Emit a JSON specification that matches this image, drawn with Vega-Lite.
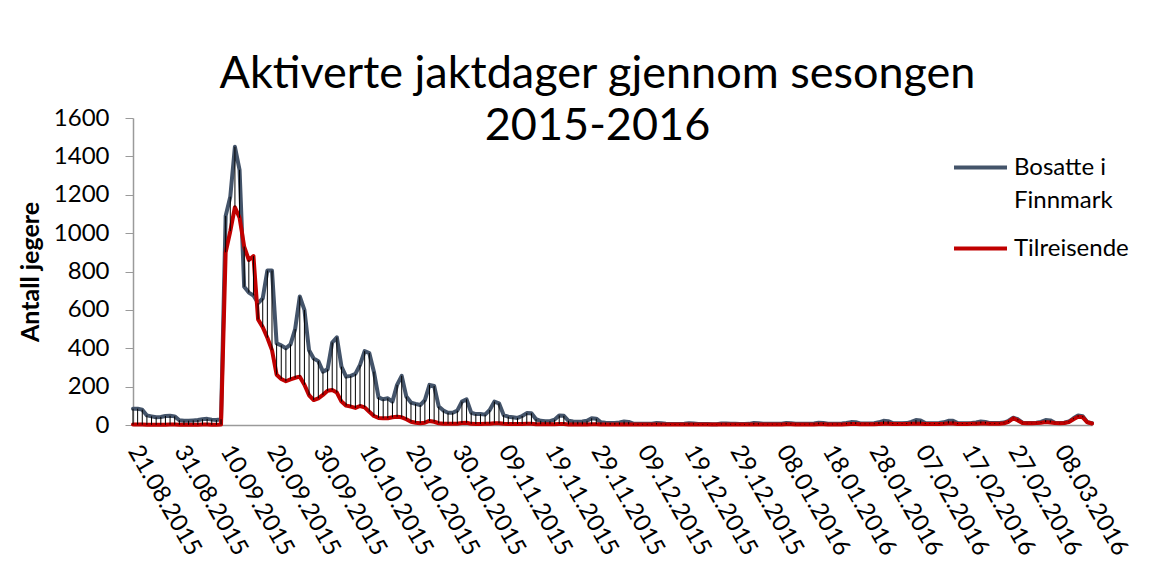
{
"$schema": "https://vega.github.io/schema/vega-lite/v6.json",
"width": 959,
"height": 307,
"autosize": {"type": "none"},
"padding": {"left": 133, "top": 118, "right": 81, "bottom": 151},
"background": "white",
"config": {"view": {"stroke": null}, "font": "Lato",
  "axisY": {"labelOverlap": false, "format": "d", "grid": false, "tickSize": 8, "tickColor": "#9a9a9a", "domainColor": "#9a9a9a", "domainWidth": 1.5, "labelFont": "Lato", "labelFontSize": 24, "labelColor": "black", "labelPadding": 16, "titleFont": "Lato", "titleFontSize": 25, "titleFontWeight": "bold", "titleColor": "black", "titlePadding": 10}},
"title": {"text": ["Aktiverte jaktdager gjennom sesongen", "2015-2016"], "font": "Lato", "fontSize": 45, "fontWeight": "normal", "lineHeight": 52, "anchor": "middle", "offset": -43, "dx": -15, "color": "black"},
"data": {"values": [
{"date":"2015-08-21","bosatte":85,"tilreisende":2},
{"date":"2015-08-22","bosatte":85,"tilreisende":2},
{"date":"2015-08-23","bosatte":80,"tilreisende":2},
{"date":"2015-08-24","bosatte":50,"tilreisende":1},
{"date":"2015-08-25","bosatte":45,"tilreisende":1},
{"date":"2015-08-26","bosatte":40,"tilreisende":1},
{"date":"2015-08-27","bosatte":42,"tilreisende":1},
{"date":"2015-08-28","bosatte":47,"tilreisende":1},
{"date":"2015-08-29","bosatte":48,"tilreisende":2},
{"date":"2015-08-30","bosatte":45,"tilreisende":2},
{"date":"2015-08-31","bosatte":25,"tilreisende":1},
{"date":"2015-09-01","bosatte":22,"tilreisende":1},
{"date":"2015-09-02","bosatte":22,"tilreisende":1},
{"date":"2015-09-03","bosatte":24,"tilreisende":1},
{"date":"2015-09-04","bosatte":26,"tilreisende":1},
{"date":"2015-09-05","bosatte":30,"tilreisende":2},
{"date":"2015-09-06","bosatte":32,"tilreisende":2},
{"date":"2015-09-07","bosatte":28,"tilreisende":1},
{"date":"2015-09-08","bosatte":26,"tilreisende":1},
{"date":"2015-09-09","bosatte":30,"tilreisende":3},
{"date":"2015-09-10","bosatte":1090,"tilreisende":900},
{"date":"2015-09-11","bosatte":1190,"tilreisende":1010},
{"date":"2015-09-12","bosatte":1450,"tilreisende":1135},
{"date":"2015-09-13","bosatte":1330,"tilreisende":1080},
{"date":"2015-09-14","bosatte":720,"tilreisende":930},
{"date":"2015-09-15","bosatte":690,"tilreisende":860},
{"date":"2015-09-16","bosatte":675,"tilreisende":880},
{"date":"2015-09-17","bosatte":635,"tilreisende":550},
{"date":"2015-09-18","bosatte":660,"tilreisende":510},
{"date":"2015-09-19","bosatte":805,"tilreisende":455},
{"date":"2015-09-20","bosatte":805,"tilreisende":390},
{"date":"2015-09-21","bosatte":425,"tilreisende":262},
{"date":"2015-09-22","bosatte":415,"tilreisende":240},
{"date":"2015-09-23","bosatte":400,"tilreisende":228},
{"date":"2015-09-24","bosatte":420,"tilreisende":238},
{"date":"2015-09-25","bosatte":500,"tilreisende":246},
{"date":"2015-09-26","bosatte":670,"tilreisende":252},
{"date":"2015-09-27","bosatte":600,"tilreisende":210},
{"date":"2015-09-28","bosatte":390,"tilreisende":155},
{"date":"2015-09-29","bosatte":347,"tilreisende":130},
{"date":"2015-09-30","bosatte":333,"tilreisende":139},
{"date":"2015-10-01","bosatte":278,"tilreisende":157},
{"date":"2015-10-02","bosatte":290,"tilreisende":178},
{"date":"2015-10-03","bosatte":430,"tilreisende":182},
{"date":"2015-10-04","bosatte":457,"tilreisende":169},
{"date":"2015-10-05","bosatte":304,"tilreisende":122},
{"date":"2015-10-06","bosatte":252,"tilreisende":101},
{"date":"2015-10-07","bosatte":256,"tilreisende":96},
{"date":"2015-10-08","bosatte":266,"tilreisende":89},
{"date":"2015-10-09","bosatte":313,"tilreisende":99},
{"date":"2015-10-10","bosatte":385,"tilreisende":92},
{"date":"2015-10-11","bosatte":375,"tilreisende":69},
{"date":"2015-10-12","bosatte":278,"tilreisende":47},
{"date":"2015-10-13","bosatte":144,"tilreisende":37},
{"date":"2015-10-14","bosatte":134,"tilreisende":35},
{"date":"2015-10-15","bosatte":139,"tilreisende":35},
{"date":"2015-10-16","bosatte":122,"tilreisende":40},
{"date":"2015-10-17","bosatte":209,"tilreisende":43},
{"date":"2015-10-18","bosatte":256,"tilreisende":40},
{"date":"2015-10-19","bosatte":148,"tilreisende":30},
{"date":"2015-10-20","bosatte":117,"tilreisende":17},
{"date":"2015-10-21","bosatte":110,"tilreisende":12},
{"date":"2015-10-22","bosatte":104,"tilreisende":9},
{"date":"2015-10-23","bosatte":130,"tilreisende":12},
{"date":"2015-10-24","bosatte":209,"tilreisende":21},
{"date":"2015-10-25","bosatte":203,"tilreisende":17},
{"date":"2015-10-26","bosatte":96,"tilreisende":9},
{"date":"2015-10-27","bosatte":75,"tilreisende":7},
{"date":"2015-10-28","bosatte":64,"tilreisende":6},
{"date":"2015-10-29","bosatte":64,"tilreisende":6},
{"date":"2015-10-30","bosatte":75,"tilreisende":7},
{"date":"2015-10-31","bosatte":122,"tilreisende":10},
{"date":"2015-11-01","bosatte":134,"tilreisende":12},
{"date":"2015-11-02","bosatte":64,"tilreisende":6},
{"date":"2015-11-03","bosatte":57,"tilreisende":5},
{"date":"2015-11-04","bosatte":57,"tilreisende":5},
{"date":"2015-11-05","bosatte":54,"tilreisende":6},
{"date":"2015-11-06","bosatte":78,"tilreisende":7},
{"date":"2015-11-07","bosatte":122,"tilreisende":9},
{"date":"2015-11-08","bosatte":113,"tilreisende":9},
{"date":"2015-11-09","bosatte":52,"tilreisende":6},
{"date":"2015-11-10","bosatte":43,"tilreisende":5},
{"date":"2015-11-11","bosatte":40,"tilreisende":5},
{"date":"2015-11-12","bosatte":37,"tilreisende":5},
{"date":"2015-11-13","bosatte":47,"tilreisende":5},
{"date":"2015-11-14","bosatte":62,"tilreisende":6},
{"date":"2015-11-15","bosatte":61,"tilreisende":6},
{"date":"2015-11-16","bosatte":30,"tilreisende":4},
{"date":"2015-11-17","bosatte":22,"tilreisende":4},
{"date":"2015-11-18","bosatte":20,"tilreisende":4},
{"date":"2015-11-19","bosatte":20,"tilreisende":4},
{"date":"2015-11-20","bosatte":28,"tilreisende":4},
{"date":"2015-11-21","bosatte":50,"tilreisende":5},
{"date":"2015-11-22","bosatte":48,"tilreisende":5},
{"date":"2015-11-23","bosatte":22,"tilreisende":3},
{"date":"2015-11-24","bosatte":18,"tilreisende":3},
{"date":"2015-11-25","bosatte":17,"tilreisende":3},
{"date":"2015-11-26","bosatte":18,"tilreisende":3},
{"date":"2015-11-27","bosatte":22,"tilreisende":3},
{"date":"2015-11-28","bosatte":35,"tilreisende":4},
{"date":"2015-11-29","bosatte":33,"tilreisende":4},
{"date":"2015-11-30","bosatte":14,"tilreisende":3},
{"date":"2015-12-01","bosatte":12,"tilreisende":3},
{"date":"2015-12-02","bosatte":11,"tilreisende":2},
{"date":"2015-12-03","bosatte":11,"tilreisende":2},
{"date":"2015-12-04","bosatte":13,"tilreisende":2},
{"date":"2015-12-05","bosatte":18,"tilreisende":3},
{"date":"2015-12-06","bosatte":16,"tilreisende":3},
{"date":"2015-12-07","bosatte":7,"tilreisende":2},
{"date":"2015-12-08","bosatte":6,"tilreisende":2},
{"date":"2015-12-09","bosatte":6,"tilreisende":2},
{"date":"2015-12-10","bosatte":6,"tilreisende":2},
{"date":"2015-12-11","bosatte":7,"tilreisende":2},
{"date":"2015-12-12","bosatte":10,"tilreisende":3},
{"date":"2015-12-13","bosatte":9,"tilreisende":3},
{"date":"2015-12-14","bosatte":6,"tilreisende":2},
{"date":"2015-12-15","bosatte":5,"tilreisende":2},
{"date":"2015-12-16","bosatte":5,"tilreisende":2},
{"date":"2015-12-17","bosatte":5,"tilreisende":2},
{"date":"2015-12-18","bosatte":6,"tilreisende":2},
{"date":"2015-12-19","bosatte":9,"tilreisende":3},
{"date":"2015-12-20","bosatte":8,"tilreisende":3},
{"date":"2015-12-21","bosatte":5,"tilreisende":2},
{"date":"2015-12-22","bosatte":5,"tilreisende":2},
{"date":"2015-12-23","bosatte":5,"tilreisende":2},
{"date":"2015-12-24","bosatte":4,"tilreisende":2},
{"date":"2015-12-25","bosatte":4,"tilreisende":2},
{"date":"2015-12-26","bosatte":8,"tilreisende":3},
{"date":"2015-12-27","bosatte":8,"tilreisende":3},
{"date":"2015-12-28","bosatte":6,"tilreisende":2},
{"date":"2015-12-29","bosatte":6,"tilreisende":2},
{"date":"2015-12-30","bosatte":5,"tilreisende":2},
{"date":"2015-12-31","bosatte":5,"tilreisende":2},
{"date":"2016-01-01","bosatte":6,"tilreisende":2},
{"date":"2016-01-02","bosatte":10,"tilreisende":3},
{"date":"2016-01-03","bosatte":9,"tilreisende":3},
{"date":"2016-01-04","bosatte":6,"tilreisende":3},
{"date":"2016-01-05","bosatte":6,"tilreisende":3},
{"date":"2016-01-06","bosatte":6,"tilreisende":3},
{"date":"2016-01-07","bosatte":6,"tilreisende":3},
{"date":"2016-01-08","bosatte":7,"tilreisende":3},
{"date":"2016-01-09","bosatte":10,"tilreisende":4},
{"date":"2016-01-10","bosatte":9,"tilreisende":4},
{"date":"2016-01-11","bosatte":6,"tilreisende":3},
{"date":"2016-01-12","bosatte":6,"tilreisende":3},
{"date":"2016-01-13","bosatte":6,"tilreisende":3},
{"date":"2016-01-14","bosatte":7,"tilreisende":3},
{"date":"2016-01-15","bosatte":8,"tilreisende":3},
{"date":"2016-01-16","bosatte":12,"tilreisende":4},
{"date":"2016-01-17","bosatte":11,"tilreisende":4},
{"date":"2016-01-18","bosatte":7,"tilreisende":3},
{"date":"2016-01-19","bosatte":7,"tilreisende":3},
{"date":"2016-01-20","bosatte":7,"tilreisende":3},
{"date":"2016-01-21","bosatte":8,"tilreisende":3},
{"date":"2016-01-22","bosatte":10,"tilreisende":4},
{"date":"2016-01-23","bosatte":15,"tilreisende":5},
{"date":"2016-01-24","bosatte":14,"tilreisende":5},
{"date":"2016-01-25","bosatte":8,"tilreisende":4},
{"date":"2016-01-26","bosatte":8,"tilreisende":4},
{"date":"2016-01-27","bosatte":8,"tilreisende":4},
{"date":"2016-01-28","bosatte":9,"tilreisende":4},
{"date":"2016-01-29","bosatte":14,"tilreisende":5},
{"date":"2016-01-30","bosatte":22,"tilreisende":6},
{"date":"2016-01-31","bosatte":20,"tilreisende":6},
{"date":"2016-02-01","bosatte":10,"tilreisende":5},
{"date":"2016-02-02","bosatte":9,"tilreisende":5},
{"date":"2016-02-03","bosatte":9,"tilreisende":5},
{"date":"2016-02-04","bosatte":10,"tilreisende":5},
{"date":"2016-02-05","bosatte":16,"tilreisende":6},
{"date":"2016-02-06","bosatte":26,"tilreisende":7},
{"date":"2016-02-07","bosatte":24,"tilreisende":7},
{"date":"2016-02-08","bosatte":10,"tilreisende":5},
{"date":"2016-02-09","bosatte":9,"tilreisende":5},
{"date":"2016-02-10","bosatte":9,"tilreisende":5},
{"date":"2016-02-11","bosatte":10,"tilreisende":5},
{"date":"2016-02-12","bosatte":14,"tilreisende":6},
{"date":"2016-02-13","bosatte":22,"tilreisende":8},
{"date":"2016-02-14","bosatte":22,"tilreisende":8},
{"date":"2016-02-15","bosatte":10,"tilreisende":5},
{"date":"2016-02-16","bosatte":9,"tilreisende":5},
{"date":"2016-02-17","bosatte":9,"tilreisende":5},
{"date":"2016-02-18","bosatte":10,"tilreisende":6},
{"date":"2016-02-19","bosatte":13,"tilreisende":7},
{"date":"2016-02-20","bosatte":18,"tilreisende":8},
{"date":"2016-02-21","bosatte":16,"tilreisende":8},
{"date":"2016-02-22","bosatte":10,"tilreisende":6},
{"date":"2016-02-23","bosatte":10,"tilreisende":6},
{"date":"2016-02-24","bosatte":11,"tilreisende":7},
{"date":"2016-02-25","bosatte":13,"tilreisende":9},
{"date":"2016-02-26","bosatte":22,"tilreisende":17},
{"date":"2016-02-27","bosatte":38,"tilreisende":35},
{"date":"2016-02-28","bosatte":30,"tilreisende":24},
{"date":"2016-02-29","bosatte":12,"tilreisende":10},
{"date":"2016-03-01","bosatte":11,"tilreisende":9},
{"date":"2016-03-02","bosatte":11,"tilreisende":9},
{"date":"2016-03-03","bosatte":12,"tilreisende":10},
{"date":"2016-03-04","bosatte":16,"tilreisende":12},
{"date":"2016-03-05","bosatte":26,"tilreisende":15},
{"date":"2016-03-06","bosatte":24,"tilreisende":13},
{"date":"2016-03-07","bosatte":12,"tilreisende":10},
{"date":"2016-03-08","bosatte":11,"tilreisende":9},
{"date":"2016-03-09","bosatte":12,"tilreisende":10},
{"date":"2016-03-10","bosatte":18,"tilreisende":15},
{"date":"2016-03-11","bosatte":35,"tilreisende":30},
{"date":"2016-03-12","bosatte":50,"tilreisende":43},
{"date":"2016-03-13","bosatte":46,"tilreisende":40},
{"date":"2016-03-14","bosatte":15,"tilreisende":14},
{"date":"2016-03-15","bosatte":9,"tilreisende":8}
]},
"encoding": {
  "x": {"field": "date", "type": "temporal",
    "scale": {"type": "utc", "nice": false, "domain": [{"year": 2015, "month": 8, "date": 21, "utc": true}, {"year": 2016, "month": 3, "date": 15, "utc": true}]},
    "axis": {"title": null, "grid": false, "ticks": false, "tickSize": 0, "domainColor": "#9a9a9a", "domainWidth": 1.5,
      "labelExpr": "utcFormat(datum.value, '%d.%m.%Y')",
      "values": [
        {"year": 2015, "month": 8, "date": 21, "utc": true},
        {"year": 2015, "month": 8, "date": 31, "utc": true},
        {"year": 2015, "month": 9, "date": 10, "utc": true},
        {"year": 2015, "month": 9, "date": 20, "utc": true},
        {"year": 2015, "month": 9, "date": 30, "utc": true},
        {"year": 2015, "month": 10, "date": 10, "utc": true},
        {"year": 2015, "month": 10, "date": 20, "utc": true},
        {"year": 2015, "month": 10, "date": 30, "utc": true},
        {"year": 2015, "month": 11, "date": 9, "utc": true},
        {"year": 2015, "month": 11, "date": 19, "utc": true},
        {"year": 2015, "month": 11, "date": 29, "utc": true},
        {"year": 2015, "month": 12, "date": 9, "utc": true},
        {"year": 2015, "month": 12, "date": 19, "utc": true},
        {"year": 2015, "month": 12, "date": 29, "utc": true},
        {"year": 2016, "month": 1, "date": 8, "utc": true},
        {"year": 2016, "month": 1, "date": 18, "utc": true},
        {"year": 2016, "month": 1, "date": 28, "utc": true},
        {"year": 2016, "month": 2, "date": 7, "utc": true},
        {"year": 2016, "month": 2, "date": 17, "utc": true},
        {"year": 2016, "month": 2, "date": 27, "utc": true},
        {"year": 2016, "month": 3, "date": 8, "utc": true}
      ],
      "labelAngle": 60, "labelAlign": "left", "labelBaseline": "middle", "labelPadding": 22,
      "labelFont": "Lato", "labelFontSize": 24, "labelColor": "black",
      "labelOverlap": false, "labelBound": false, "labelFlush": false}
  },
  "y": {"field": "antall", "type": "quantitative",
    "scale": {"domain": [0, 1600], "nice": false},
    "axis": {"title": "Antall jegere", "values": [0, 200, 400, 600, 800, 1000, 1200, 1400, 1600], "labelOverlap": false, "format": "d"}}
},
"layer": [
  {
    "transform": [{"fold": ["bosatte", "tilreisende"], "as": ["serie", "antall"]}],
    "mark": {"type": "line", "strokeWidth": 4, "strokeJoin": "round", "strokeCap": "round"},
    "encoding": {
      "color": {"field": "serie", "type": "nominal",
        "scale": {"domain": ["bosatte", "tilreisende"], "range": ["#44546A", "#C00000"]},
        "legend": {"orient": "none", "legendX": 819, "legendY": 21, "title": null, "padding": 0,
          "symbolType": "stroke", "symbolSize": 2809, "symbolStrokeWidth": 4,
          "labelFont": "Lato", "labelFontSize": 24, "labelColor": "black", "labelOffset": 5,
          "rowPadding": 7,
          "labelExpr": "datum.value == 'bosatte' ? ['Bosatte i', 'Finnmark'] : 'Tilreisende'",
          "encode": {"labels": {"update": {"lineHeight": {"value": 33}}}}}}
    }
  },
  {
    "mark": {"type": "rule", "color": "black", "strokeWidth": 1},
    "encoding": {
      "y": {"field": "bosatte", "type": "quantitative",
        "scale": {"domain": [0, 1600], "nice": false},
        "axis": {"title": "Antall jegere", "values": [0, 200, 400, 600, 800, 1000, 1200, 1400, 1600], "labelOverlap": false, "format": "d"}},
      "y2": {"field": "tilreisende"}
    }
  }
]
}
